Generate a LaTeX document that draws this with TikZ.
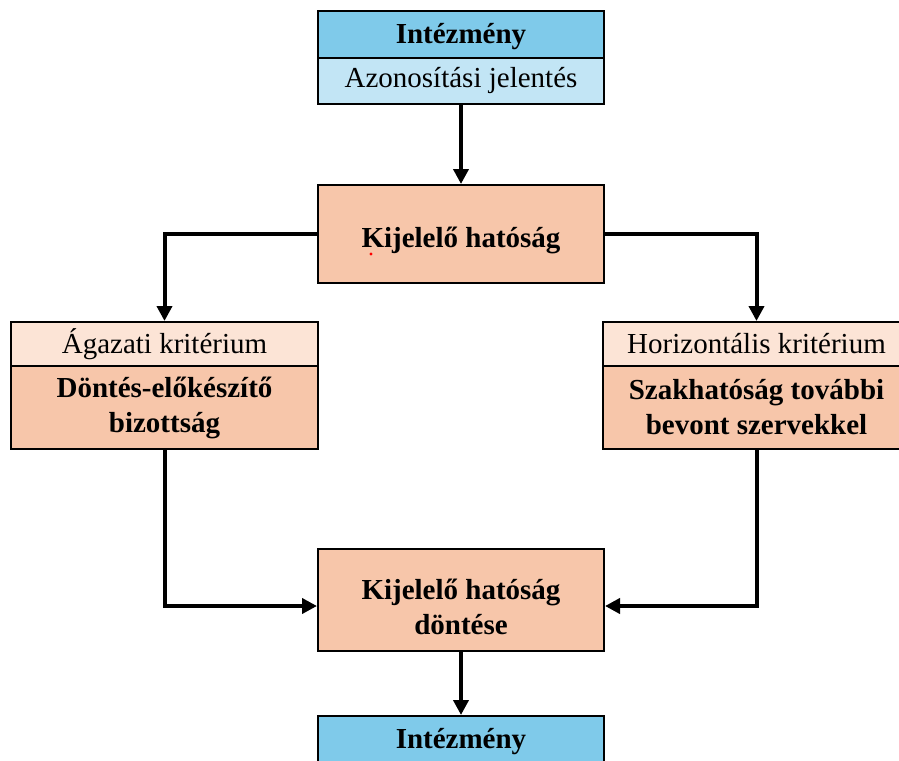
\documentclass[tikz,border=0pt]{standalone}
\usepackage{fontspec}
\setmainfont{Liberation Serif}
\usetikzlibrary{arrows.meta}
\definecolor{instdark}{HTML}{7FCAEA}
\definecolor{instlight}{HTML}{C2E5F5}
\definecolor{peach}{HTML}{F7C6AA}
\definecolor{peachlight}{HTML}{FCE4D6}

\begin{document}
\begin{tikzpicture}[x=1pt,y=-1pt,
  box/.style={draw=black, line width=2pt, rectangle, inner sep=0pt,
    align=center, font=\fontsize{29}{35}\selectfont},
  boldbox/.style={box, font=\fontsize{29}{35}\selectfont\bfseries},
  boldtext/.style={inner sep=0pt, align=center, font=\fontsize{29}{35}\selectfont\bfseries},
  flow/.style={line width=4pt, -{Triangle[length=15pt,width=15pt]}}]
\clip (0,0) rectangle (899,760);
\useasboundingbox (0,0) rectangle (899,760);

% institution with identification report
\node[boldbox, fill=instdark, minimum width=286pt, minimum height=47pt, text depth=3pt] (inst) at (461,34.5) {Intézmény};
\node[box, fill=instlight, minimum width=286pt, minimum height=46pt] (rep) at (461,81) {Azonosítási jelentés};

% designating authority
\node[box, fill=peach, minimum width=286pt, minimum height=98pt] (auth) at (461,234) {};
\node[boldtext] (authtext) at ([yshift=-6pt]auth.center) {Kijelelő hatóság};
\fill[red] (371,254) circle (1.6pt);

% sectoral branch
\node[box, fill=peachlight, minimum width=307pt, minimum height=44pt] (lhead) at (164.5,344) {Ágazati kritérium};
\node[boldbox, fill=peach, minimum width=307pt, minimum height=83pt] (lbody) at (164.5,407.5) {Döntés-előkészítő\\bizottság};

% horizontal branch
\node[box, fill=peachlight, minimum width=307pt, minimum height=44pt] (rhead) at (756.5,344) {Horizontális kritérium};
\node[boldbox, fill=peach, minimum width=307pt, minimum height=83pt] (rbody) at (756.5,407.5) {Szakhatóság további\\bevont szervekkel};

% decision
\node[box, fill=peach, minimum width=286pt, minimum height=102pt] (dec) at (461,600) {};
\node[boldtext] (dectext) at ([yshift=-7pt]dec.center) {Kijelelő hatóság\\döntése};

% institution (result)
\node[boldbox, fill=instdark, minimum width=286pt, minimum height=47pt, text depth=3pt] (inst2) at (461,739.5) {Intézmény};

% connectors
\draw[flow] (rep.south) -- (auth.north);
\draw[flow] (auth.west) -| (lhead.north);
\draw[flow] (auth.east) -| (rhead.north);
\draw[flow] (lbody.south) |- ([yshift=-6pt]dec.west);
\draw[flow] (rbody.south) |- ([yshift=-6pt]dec.east);
\draw[flow] (dec.south) -- (inst2.north);
\end{tikzpicture}
\end{document}
